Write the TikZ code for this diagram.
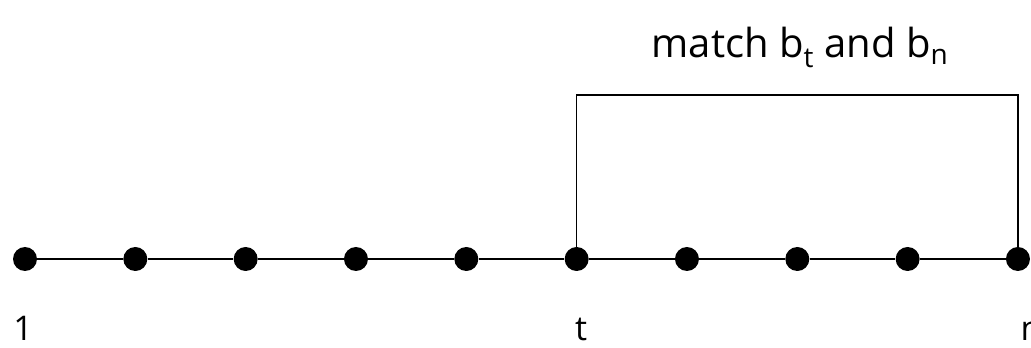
\documentclass[tikz,border=0pt]{standalone}
\usepackage{fontspec}
\setmainfont{Open Sans}
\begin{document}
\begin{tikzpicture}[x=1pt,y=1pt,
  dotnode/.style={circle,fill=black,inner sep=0pt,minimum size=24pt},
  lbl/.style={anchor=base,font=\fontsize{34}{40}\selectfont,inner sep=0pt,text depth=0pt},
  conn/.style={line width=1.6pt}]
\useasboundingbox (0,0) rectangle (1031,348);
\foreach \i in {0,...,9} {
  \node[dotnode] (d\i) at ({25+110.33*\i},89) {};
}
\draw[conn] (d0) -- (d1) -- (d2) -- (d3) -- (d4) -- (d5) -- (d6) -- (d7) -- (d8) -- (d9);
\coordinate (tl) at (d5.center |- 0,253);
\coordinate (tr) at (d9.center |- 0,253);
\draw[conn] (d5.center) -- (tl) -- (tr) -- (d9.center);
\node[lbl] (l1) at (23,7) {1};
\node[lbl] (lt) at (581,7) {t};
\node[lbl] (ln) at (1031,7) {n};
\node[lbl,font=\fontsize{40}{46}\selectfont] (title) at (800,290) {match b$_{\mathrm{t}}$ and b$_{\mathrm{n}}$};
\end{tikzpicture}
\end{document}
